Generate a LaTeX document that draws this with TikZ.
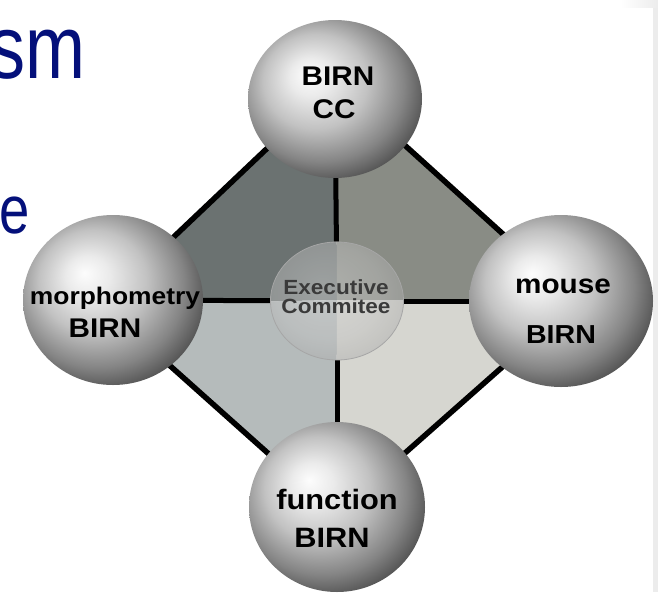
\documentclass[tikz,border=0pt]{standalone}
\usepackage{fontspec}
\setmainfont{Liberation Sans}[FakeStretch=1.1]
\newfontfamily\slidefont{Liberation Sans}[FakeStretch=0.8]
\usetikzlibrary{shapes.geometric}

\definecolor{slideblue}{RGB}{4,16,122}
\definecolor{qtl}{RGB}{107,114,113}
\definecolor{qtr}{RGB}{137,140,133}
\definecolor{qbl}{RGB}{181,187,187}
\definecolor{qbr}{RGB}{214,214,208}
\definecolor{exectext}{RGB}{58,58,58}
\definecolor{edgegray}{RGB}{236,236,236}

% soft grey globe, lit from the upper left
\pgfdeclareradialshading{globe}{\pgfpoint{-8bp}{8bp}}{%
  rgb(0bp)=(0.99,0.99,0.99);
  rgb(6bp)=(0.92,0.92,0.92);
  rgb(15bp)=(0.76,0.76,0.76);
  rgb(24bp)=(0.52,0.52,0.52);
  rgb(30bp)=(0.32,0.32,0.32);
  rgb(35bp)=(0.18,0.18,0.18);
  rgb(50bp)=(0.12,0.12,0.12)}

% pale glassy disc for the hub
\pgfdeclareradialshading{glass}{\pgfpoint{-6bp}{6bp}}{%
  rgb(0bp)=(0.86,0.86,0.86);
  rgb(20bp)=(0.76,0.76,0.76);
  rgb(32bp)=(0.64,0.64,0.64);
  rgb(50bp)=(0.55,0.55,0.55)}

\pgfdeclarelayer{back}
\pgfsetlayers{back,main}

\tikzset{
  sphere/.style={ellipse, inner sep=0pt, shading=globe},
  hub/.style={ellipse, inner sep=0pt, minimum width=133pt, minimum height=118pt,
    shading=glass, fill opacity=0.45, draw=gray!70, line width=0.8pt},
  rimline/.style={line width=5.5pt, black},
  spoke/.style={line width=5pt, black},
  label/.style={anchor=base, inner sep=0pt, font=\bfseries},
  hublabel/.style={anchor=base, inner sep=0pt, text=exectext,
    font=\fontsize{20.5}{24}\selectfont\bfseries},
  slidetext/.style={anchor=base east, inner sep=0pt, text=slideblue}
}

\begin{document}
\begin{tikzpicture}[x=1pt,y=-1pt]
\useasboundingbox (0,0) rectangle (658,592);

% slide frame at the right edge
\fill[edgegray] (653,7) rectangle (658,592);
\shade[left color=white, right color=edgegray] (620,0) rectangle (658,7);

% slide title fragments
\node[slidetext, font=\slidefont\fontsize{90}{92}\selectfont] (t1) at (86,78) {sm};
\node[slidetext, font=\slidefont\fontsize{68}{70}\selectfont] (t2) at (30,233) {e};

% diamond corners and crossing point
\coordinate (vt) at (336,83);
\coordinate (vr) at (577,301);
\coordinate (vb) at (336,514);
\coordinate (vl) at (102,305);
\coordinate (o) at (337,300);

% member spheres
\node[sphere, minimum width=174pt, minimum height=158pt] (cc) at (335,99) {};
\node[sphere, minimum width=180pt, minimum height=170pt] (morph) at (113,300) {};
\node[sphere, minimum width=184pt, minimum height=172pt] (mouse) at (561,301) {};
\node[sphere, minimum width=176pt, minimum height=170pt] (func) at (337,507) {};

% executive committee hub
\node[hub] (exec) at (337,301) {};

% sphere labels
\node[label, font=\fontsize{27}{30}\selectfont\bfseries] (ccA) at (338,85) {BIRN};
\node[label, font=\fontsize{27}{30}\selectfont\bfseries] (ccB) at (334,118) {CC};
\node[label, font=\fontsize{24}{28}\selectfont\bfseries] (morphA) at (115,304) {morphometry};
\node[label, font=\fontsize{27}{30}\selectfont\bfseries] (morphB) at (105,337) {BIRN};
\node[label, font=\fontsize{27}{30}\selectfont\bfseries] (mouseA) at (563,293) {mouse};
\node[label, font=\fontsize{26}{30}\selectfont\bfseries] (mouseB) at (561,343) {BIRN};
\node[label, font=\fontsize{28}{30}\selectfont\bfseries] (funcA) at (337,509) {function};
\node[label, font=\fontsize{28}{30}\selectfont\bfseries] (funcB) at (332,547) {BIRN};
\node[hublabel] (execA) at (336,294) {Executive};
\node[hublabel] (execB) at (336,313) {Commitee};

\begin{pgfonlayer}{back}
  % four quadrants of the diamond
  \fill[qtl] (vt) -- (vl) -- (o) -- cycle;
  \fill[qtr] (vt) -- (vr) -- (o) -- cycle;
  \fill[qbl] (vb) -- (vl) -- (o) -- cycle;
  \fill[qbr] (vb) -- (vr) -- (o) -- cycle;
  % outer rim
  \draw[rimline, line join=miter] (vt) -- (vr) -- (vb) -- (vl) -- cycle;
  % spokes from the hub to the members
  \draw[spoke] (exec) -- (cc);
  \draw[spoke] (exec) -- (func);
  \draw[spoke] (exec) -- (morph);
  \draw[spoke] (exec) -- (mouse);
\end{pgfonlayer}
\end{tikzpicture}
\end{document}
